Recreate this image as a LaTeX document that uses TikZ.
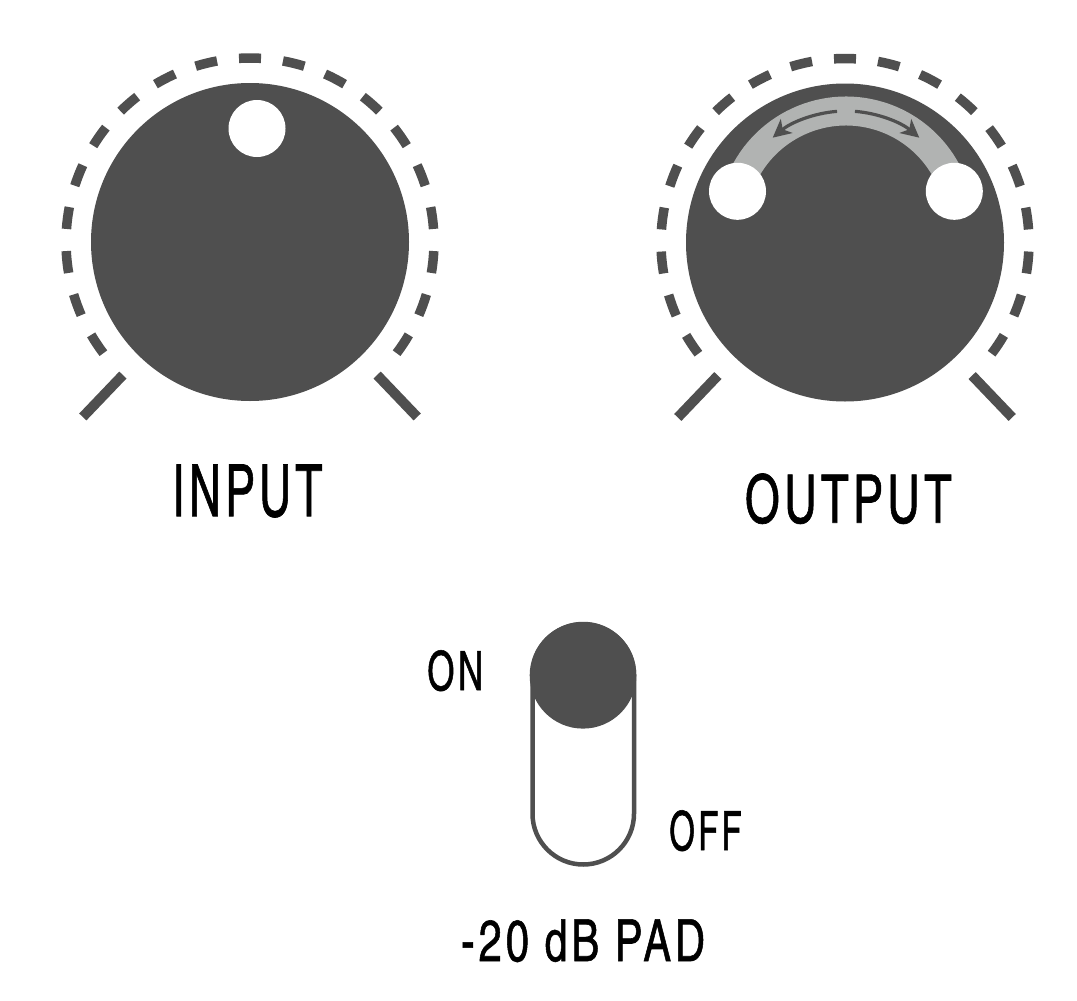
\documentclass[tikz,border=0pt]{standalone}
\usepackage{fontspec}
\newfontfamily\condfont{texgyreheroscn-regular}[Extension=.otf,FakeBold=1,LetterSpace=8]
\usetikzlibrary{arrows.meta}
\definecolor{knobgray}{HTML}{4F4F4F}
\definecolor{bandgray}{HTML}{B1B3B2}
\newcommand{\fitlbl}[3]{\resizebox{#1pt}{#2pt}{\condfont #3\unskip}}
\begin{document}
\begin{tikzpicture}[x=1pt,y=1pt,
  knob/.style={circle,fill=knobgray,inner sep=0pt,minimum size=318pt},
  dot/.style={circle,fill=white,inner sep=0pt,minimum size=57pt},
  ringdash/.style={draw=knobgray,line width=9.5pt},
  tickbar/.style={draw=knobgray,line width=10pt},
  band/.style={draw=bandgray,line width=29pt},
  turnarrow/.style={draw=knobgray,line width=3.2pt,-{Stealth[length=18pt,width=18pt,inset=5pt]}},
  lbl/.style={inner sep=0pt,anchor=center,text=black}]
\fill[white] (0,0) rectangle (1077,-1001);
\useasboundingbox (0,0) rectangle (1077,-1001);

% ---------- INPUT knob ----------
\node[knob] (kL) at (250,-242) {};
\foreach \k [evaluate=\k as \a using 90+13.75*\k] in {-9,...,9}
  \draw[ringdash] (kL.center) ++({\a-3.43}:184) arc[start angle={\a-3.43}, delta angle=6.86, radius=184];
\draw[tickbar] (kL.center) ++(226.3:184) -- ++(226.3:58);
\draw[tickbar] (kL.center) ++(-46.3:184) -- ++(-46.3:58);
\node[dot] (dotIn) at (257,-128.5) {};
\node[lbl] (inLbl) at (247.5,-491) {\fitlbl{150}{51.7}{INPUT}};

% ---------- OUTPUT knob ----------
\node[knob] (kR) at (845,-242.5) {};
\foreach \k [evaluate=\k as \a using 90+13.75*\k] in {-9,...,9}
  \draw[ringdash] (kR.center) ++({\a-3.43}:184) arc[start angle={\a-3.43}, delta angle=6.86, radius=184];
\draw[tickbar] (kR.center) ++(226.3:184) -- ++(226.3:58);
\draw[tickbar] (kR.center) ++(-46.3:184) -- ++(-46.3:58);
\coordinate (bc) at (846,-225);
\draw[band] (bc) ++(162.6:114) arc[start angle=162.6, end angle=17.4, radius=114];
\draw[turnarrow] (bc) ++(94.5:114) arc[start angle=94.5, end angle=130, radius=114];
\draw[turnarrow] (bc) ++(85.5:114) arc[start angle=85.5, end angle=50, radius=114];
\node[dot] (dotOutL) at (737.5,-191.3) {};
\node[dot] (dotOutR) at (954.3,-191.3) {};
\node[lbl] (outLbl) at (848.3,-498.7) {\fitlbl{206.7}{49.3}{OUTPUT}};

% ---------- PAD switch ----------
\draw[draw=knobgray,line width=4.5pt,rounded corners=50.75pt] (532.5,-624) rectangle (634,-864.5);
\node[circle,fill=knobgray,inner sep=0pt,minimum size=106.6pt] (lever) at (583,-675.3) {};
\node[lbl] (onLbl) at (455.3,-670.7) {\fitlbl{56}{40}{ON}};
\node[lbl] (offLbl) at (705.5,-830.7) {\fitlbl{72.4}{40}{OFF}};
\node[lbl] (padLbl) at (583,-940.8) {\fitlbl{244}{41.7}{-20 dB PAD}};
\end{tikzpicture}
\end{document}
